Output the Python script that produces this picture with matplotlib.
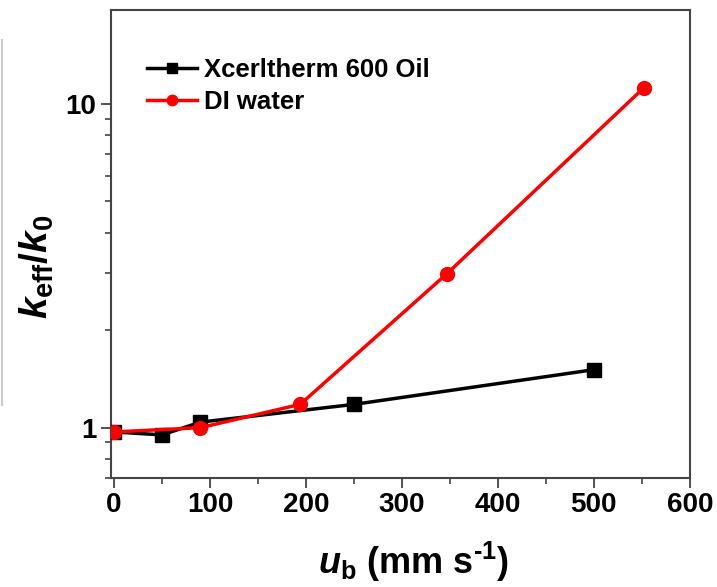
import matplotlib
matplotlib.use("Agg")
import matplotlib.pyplot as plt
from matplotlib.ticker import LogLocator, NullFormatter, FixedLocator, MultipleLocator
from matplotlib.lines import Line2D

plt.rcParams['font.family'] = ['Liberation Sans', 'DejaVu Sans']
plt.rcParams['mathtext.fontset'] = 'custom'
plt.rcParams['mathtext.rm'] = 'Liberation Sans:bold'
plt.rcParams['mathtext.it'] = 'Liberation Sans:bold:italic'
plt.rcParams['mathtext.bf'] = 'Liberation Sans:bold'

oil_x = [0, 50, 90, 250, 500]
oil_y = [0.97, 0.95, 1.04, 1.18, 1.51]
water_x = [0, 90, 194, 347, 552]
water_y = [0.97, 1.00, 1.18, 2.99, 11.2]
x_ticks = [0, 100, 200, 300, 400, 500, 600]
y_ticks = [1, 10]
y_tick_labels = ['1', '10']

fig = plt.figure(figsize=(7.17, 5.87), dpi=100)
ax = fig.add_axes([0.155, 0.186, 0.807, 0.797])

ax.plot(oil_x, oil_y, color='black', lw=2.5, marker='s', ms=10,
        label='Xcerltherm 600 Oil', zorder=3)
ax.plot(water_x, water_y, color='#ff0000', lw=2.5, marker='o', ms=10,
        label='DI water', zorder=4)

ax.set_yscale('log')
ax.set_xlim(-3, 600)
ax.set_ylim(0.70, 19.5)
ax.set_xticks(x_ticks)
ax.set_xticklabels([str(v) for v in x_ticks])
ax.xaxis.set_minor_locator(MultipleLocator(50))
ax.yaxis.set_major_locator(FixedLocator(y_ticks))
ax.set_yticklabels(y_tick_labels)
ax.yaxis.set_minor_locator(LogLocator(base=10, subs=range(2, 10)))
ax.yaxis.set_minor_formatter(NullFormatter())

for s in ax.spines.values():
    s.set_color('#444444')
    s.set_linewidth(1.5)
ax.tick_params(which='major', direction='out', length=7, width=1.3,
               color='#444444', labelsize=20, top=False, right=False)
ax.tick_params(which='minor', direction='out', length=4, width=1.2,
               color='#444444', top=False, right=False)
for lab in ax.get_xticklabels() + ax.get_yticklabels():
    lab.set_fontweight('bold')

ax.set_xlabel(r'$\mathit{u}_{\mathrm{b}}$ (mm s$^{\text{-1}}$)', fontsize=26,
              fontweight='bold')
ax.xaxis.set_label_coords(0.522, -0.132)
ax.set_ylabel(r'$k_{\mathrm{eff}}/k_{\mathrm{0}}$', fontsize=28,
              fontweight='bold')
ax.yaxis.set_label_coords(-0.095, 0.451)

leg = ax.legend(loc='upper left', bbox_to_anchor=(0.062, 0.898), frameon=False,
                prop={'weight': 'bold', 'size': 18.5}, handlelength=1.95,
                handletextpad=0.27, labelspacing=0.32, borderaxespad=0.0,
                borderpad=0.0, markerscale=0.75)

fig.add_artist(Line2D([0.003, 0.003], [1 - 40/587, 1 - 405/587],
                      color='#cccccc', lw=1.5, transform=fig.transFigure))

fig.savefig('out.png', dpi=100)
